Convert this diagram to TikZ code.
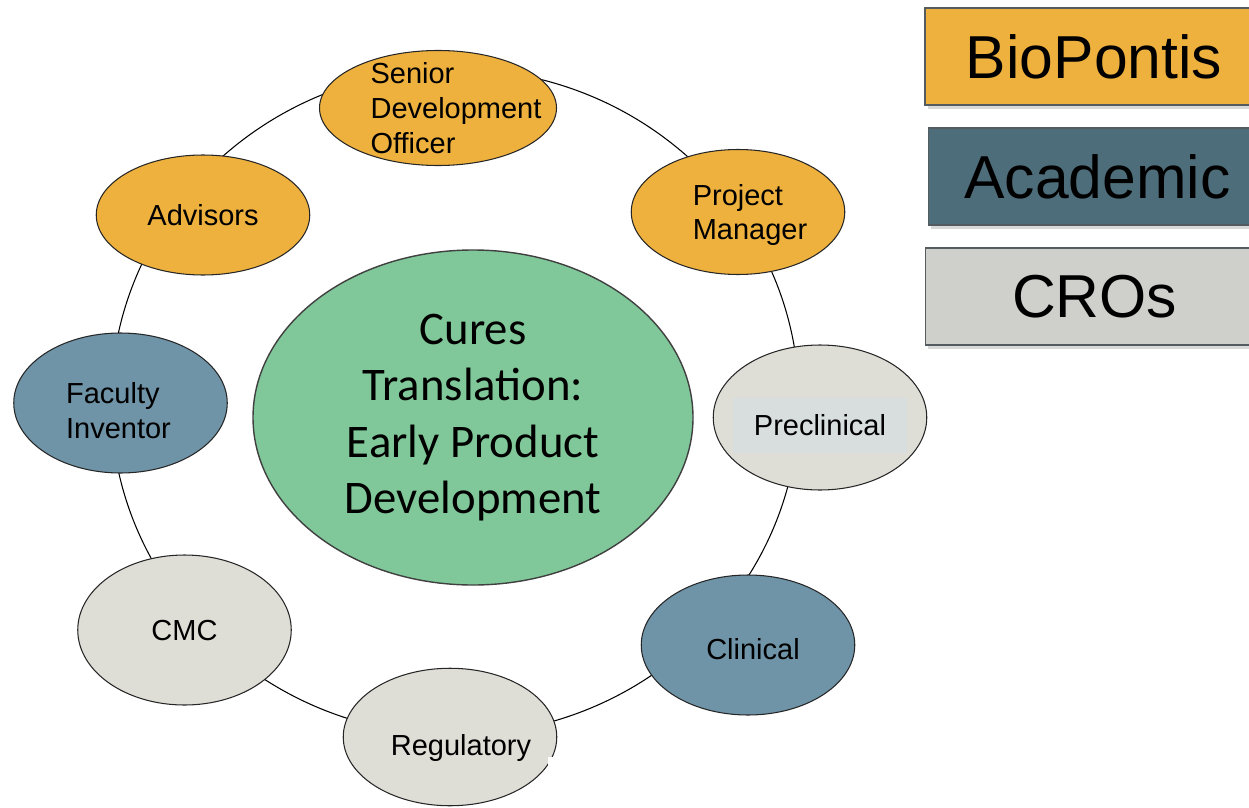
\documentclass[tikz,border=0pt]{standalone}
\usepackage{fontspec}
\setmainfont{Liberation Sans}
\newfontfamily\carlito{Carlito}
\usepackage{tikz}
\usetikzlibrary{shapes.geometric,shadows}

\definecolor{bioorange}{RGB}{238,177,62}
\definecolor{acakey}{RGB}{77,109,122}
\definecolor{acablue}{RGB}{111,147,167}
\definecolor{crokey}{RGB}{207,208,203}
\definecolor{crogrey}{RGB}{222,221,214}
\definecolor{precbg}{RGB}{216,221,221}
\definecolor{curegreen}{RGB}{128,200,153}
\definecolor{keyedge}{RGB}{85,92,96}

\begin{document}
\begin{tikzpicture}[
 role node/.style={ellipse,draw=black!85,line width=0.6pt,inner sep=0pt,minimum width=4.27cm},
 bio node/.style={role node,fill=bioorange},
 aca node/.style={role node,fill=acablue},
 cro node/.style={role node,fill=crogrey},
 role text/.style={align=left,inner sep=0pt,font=\fontsize{16.5}{19.8}\selectfont},
 key box/.style={rectangle,draw=keyedge,line width=1pt,minimum width=6.76cm,minimum height=1.94cm,
   font=\fontsize{34.5}{40}\selectfont,drop shadow={shadow xshift=1.5pt,shadow yshift=-2pt,opacity=0.3}}]
\useasboundingbox (0,0) rectangle (24.98,-16.14);

%ring
  \coordinate (hub) at (9.1,-8.04);
  \draw[line width=0.6pt] (hub) ellipse [x radius=6.88cm, y radius=6.66cm];

%centre
  \node[ellipse,fill=curegreen,draw=black!75,line width=0.8pt,minimum width=8.8cm,minimum height=6.7cm,
    align=center,font=\carlito\fontsize{26.6}{32}\selectfont] (cures) at (9.46,-8.35)
    {Cures\\Translation:\\Early Product\\Development};

%BioPontis
  \node[bio node,minimum height=2.3cm,minimum width=4.74cm] (sdo) at (8.76,-2.16) {};
  \node[role text] (sdo-t) at ([xshift=0.36cm]sdo.center) {Senior\\Development\\Officer};
  \node[bio node,minimum height=2.5cm] (pm) at (14.76,-4.24) {};
  \node[role text] (pm-t) at ([xshift=0.24cm,yshift=-0.06cm]pm.center) {Project\\Manager};
  \node[bio node,minimum height=2.4cm] (adv) at (4.06,-4.3) {};
  \node[role text] (adv-t) at (adv.center) {Advisors};

%Academic
  \node[aca node,minimum height=2.8cm] (fac) at (2.41,-8.06) {};
  \node[role text] (fac-t) at ([xshift=-0.04cm,yshift=-0.15cm]fac.center) {Faculty\\Inventor};
  \node[aca node,minimum height=2.8cm] (clin) at (14.96,-12.9) {};
  \node[role text] (clin-t) at ([xshift=0.1cm,yshift=-0.08cm]clin.center) {Clinical};

%CROs
  \node[cro node,minimum height=2.9cm] (prec) at (16.4,-8.35) {};
  \node[role text,fill=precbg,minimum width=3.48cm,minimum height=1.1cm,align=center] (prec-t)
    at ([yshift=-0.15cm]prec.center) {Preclinical};
  \node[cro node,minimum height=3cm] (cmc) at (3.69,-12.6) {};
  \node[role text] (cmc-t) at ([yshift=-0.02cm]cmc.center) {CMC};
  \node[cro node,minimum height=2.75cm] (reg) at (9.0,-14.74) {};
  \node[role text] (reg-t) at ([xshift=0.22cm,yshift=-0.22cm]reg.center) {Regulatory};
  \fill[white] (10.96,-15.14) rectangle (11.2,-16.14);

%key
  \node[key box,fill=bioorange] (key-bio) at (21.88,-1.13) {BioPontis};
  \node[key box,fill=acakey] (key-aca) at (21.95,-3.53) {Academic};
  \node[key box,fill=crokey] (key-cro) at (21.89,-5.93) {CROs};
\end{tikzpicture}
\end{document}
